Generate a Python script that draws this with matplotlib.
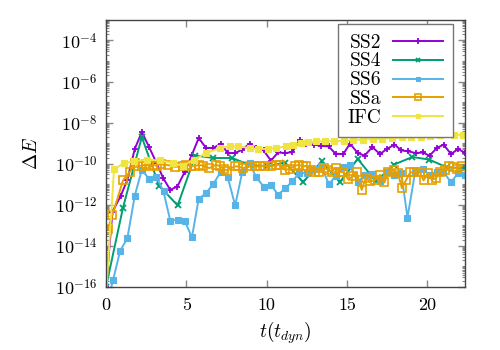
import numpy as np
import matplotlib
matplotlib.use("Agg")
import matplotlib.pyplot as plt
from matplotlib.ticker import FixedLocator, LogLocator, NullFormatter, FixedFormatter

plt.rcParams['font.family'] = ['cmr10', 'DejaVu Serif']
plt.rcParams['mathtext.fontset'] = 'cm'
plt.rcParams['axes.formatter.use_mathtext'] = True

# ---- data (log10 of Delta E) ----
ss2_t = [0, 0.4, 0.92, 1.33, 1.79, 2.23, 2.69, 3.15, 3.56, 4.0, 4.44, 4.9, 5.35, 5.77, 6.23,
         6.69, 7.15, 7.58, 8.02, 8.48, 8.94, 9.35, 9.81, 10.27, 10.71, 11.17, 11.6, 12.06,
         12.48, 12.94, 13.4, 13.86, 14.29, 14.77, 15.19, 15.67, 16.1, 16.58, 17.06, 17.48,
         17.96, 18.39, 18.83, 19.29, 19.73, 20.14, 20.6, 21.02, 21.48, 21.92, 22.37]
ss2_log = [-16, -12.34, -11.56, -10.78, -9.28, -8.45, -9.20, -9.97, -10.70, -11.27, -11.11,
           -10.40, -9.56, -8.75, -9.23, -9.23, -9.02, -9.48, -9.48, -9.32, -9.02, -9.23, -9.35,
           -9.85, -9.45, -9.48, -9.43, -8.83, -9.02, -9.07, -9.12, -9.16, -9.51, -9.53, -9.02,
           -9.48, -9.6, -9.19, -9.53, -9.28, -9.07, -9.35, -9.4, -9.48, -9.45, -9.61, -9.23,
           -9.07, -9.53, -9.28, -9.48]

ss4_t = [0, 1.06, 2.23, 3.31, 4.46, 5.56, 6.69, 7.83, 8.95, 10.0, 11.14, 12.27, 13.42, 14.56,
         15.67, 16.81, 17.9, 19.08, 20.13, 21.23, 22.37]
ss4_log = [-16, -12.13, -8.70, -11.07, -12.03, -9.6, -9.72, -9.72, -10.05, -10.13, -9.94,
           -10.89, -9.89, -10.89, -9.77, -10.86, -10.05, -9.67, -9.8, -10.18, -10.21]

ss6_t = [0, 0.44, 0.88, 1.33, 1.79, 2.23, 2.69, 3.14, 3.58, 4.0, 4.46, 4.9, 5.35, 5.77, 6.23,
         6.69, 7.15, 7.58, 8.04, 8.48, 8.94, 9.35, 9.81, 10.27, 10.71, 11.17, 11.6, 12.02,
         12.52, 12.98, 13.4, 13.88, 14.31, 14.77, 15.19, 15.66, 16.13, 16.58, 17.06, 17.48,
         17.94, 18.38, 18.77, 19.25, 19.71, 20.14, 20.6, 21.0, 21.48, 21.92, 22.37]
ss6_log = [-17, -15.66, -14.24, -13.63, -11.56, -10.29, -10.75, -10.65, -11.35, -12.77,
           -12.73, -12.78, -13.58, -11.71, -11.43, -10.98, -10.38, -10.65, -12.03, -10.41,
           -9.97, -10.65, -11.11, -11.02, -11.51, -11.19, -10.86, -10.45, -10.45, -10.26,
           -10.13, -10.99, -10.59, -10.18, -10.08, -10.89, -10.54, -10.5, -10.86, -10.38,
           -10.54, -10.45, -12.62, -10.38, -10.26, -10.54, -10.38, -10.38, -10.91, -10.45,
           -10.54]

ssa_t = [0.1, 0.4, 1.06, 1.5, 1.79, 2.0, 2.23, 2.48, 2.69, 2.94, 3.15, 3.4, 3.83, 4.3, 4.77,
         5.0, 5.29, 5.55, 5.81, 6.03, 6.44, 6.85, 7.12, 7.33, 7.54, 8.0, 8.21, 8.52, 8.94,
         9.25, 9.56, 9.88, 10.29, 10.6, 10.81, 11.13, 11.44, 11.75, 12.0, 12.27, 12.48,
         12.75, 13.0, 13.27, 13.56, 13.83, 14.04, 14.31, 14.56, 14.77, 15.08, 15.35, 15.6,
         15.92, 16.17, 16.44, 16.75, 17.06, 17.33, 17.58, 17.9, 18.17, 18.42, 18.67, 18.94,
         19.2, 19.52, 19.77, 20.04, 20.29, 20.54, 20.81, 21.08, 21.33, 21.58, 21.85, 22.17]
ssa_log = [-13.2, -12.49, -10.81, -10.38, -9.94, -10.1, -10.1, -10.02, -10.1, -10.05, -10.1,
           -10.02, -10.06, -10.15, -10.13, -10.05, -10.1, -10.1, -10.05, -10.1, -10.21, -10.05,
           -10.13, -10.26, -10.33, -10.13, -10.13, -10.21, -10.13, -10.13, -10.13, -10.1,
           -10.13, -10.05, -10.05, -10.29, -10.26, -10.1, -10.05, -10.13, -10.1, -10.29,
           -10.38, -10.38, -10.21, -10.29, -10.38, -10.21, -10.38, -10.42, -10.75, -10.62,
           -10.42, -11.27, -10.7, -10.86, -10.8, -10.54, -10.91, -10.38, -10.29, -10.45,
           -11.19, -10.81, -10.42, -10.42, -10.38, -10.81, -10.45, -10.78, -10.7, -10.38,
           -10.29, -10.13, -10.18, -10.24, -10.1]

ifc_t = [0, 0.5, 1.13, 1.75, 2.54, 3.38, 4.15, 4.77, 5.5, 6.23, 7.12, 7.69, 8.21, 8.94, 9.46,
         10.08, 10.6, 11.23, 11.65, 12.17, 12.58, 13.1, 13.63, 14.2, 14.8, 15.4, 16.0, 16.6,
         17.2, 17.8, 18.4, 19.0, 19.6, 20.2, 20.8, 21.65, 22.23]
ifc_log = [-16.5, -10.26, -9.97, -9.89, -9.8, -9.84, -9.97, -10.1, -9.8, -9.48, -9.23, -9.16,
           -9.16, -9.23, -9.28, -9.28, -9.23, -9.16, -9.07, -8.99, -8.96, -8.91, -8.91, -8.9,
           -8.88, -8.85, -8.82, -8.8, -8.78, -8.75, -8.72, -8.7, -8.68, -8.65, -8.62, -8.59,
           -8.59]

labels = ['SS2', 'SS4', 'SS6', 'SSa', 'IFC']
colors = ['#9400D3', '#009E73', '#56B4E9', '#E69F00', '#F0E442']
ytick_exps = [-16, -14, -12, -10, -8, -6, -4]
xticks = [0, 5, 10, 15, 20]

fig = plt.figure(figsize=(5, 3.5), dpi=100)
ax = fig.add_axes([0.212, 0.18, 0.718, 0.763])

series = [(ss2_t, ss2_log), (ss4_t, ss4_log), (ss6_t, ss6_log), (ssa_t, ssa_log), (ifc_t, ifc_log)]
styles = [dict(marker='+', ms=5, mew=1.3),
          dict(marker='x', ms=4, mew=1.3),
          dict(marker='s', ms=4, mew=0.8),
          dict(marker='s', ms=5.5, mew=1.2, mfc='none'),
          dict(marker='s', ms=4, mew=0.8)]
for (t, lg), lab, c, st in zip(series, labels, colors, styles):
    ax.plot(t, 10.0 ** np.array(lg), color=c, lw=1.4, label=lab, clip_on=True, **st)

ax.set_yscale('log')
ax.set_xlim(0, 22.35)
ax.set_ylim(1e-16, 1e-3)
ax.yaxis.set_major_locator(FixedLocator([10.0 ** e for e in ytick_exps]))
ax.yaxis.set_major_formatter(FixedFormatter(['$10^{%d}$' % e for e in ytick_exps]))
ax.yaxis.set_minor_locator(LogLocator(base=10, subs=np.arange(1, 10), numticks=40))
ax.yaxis.set_minor_formatter(NullFormatter())
ax.set_xticks(xticks)
ax.set_xticklabels([str(v) for v in xticks])

ax.tick_params(which='both', direction='in', top=True, right=True, color='#888888',
               labelsize=13)
ax.tick_params(axis='x', which='major', pad=8)
ax.tick_params(axis='y', which='major', pad=6)
ax.tick_params(which='major', length=5, width=1)
ax.tick_params(which='minor', length=2.5, width=0.8)
for s in ax.spines.values():
    s.set_color('#444444')
    s.set_linewidth(1)

ax.set_xlabel('$t(t_{dyn})$', fontsize=14, labelpad=4)
ax.set_ylabel(r'$\Delta E$', fontsize=14, labelpad=10)

leg = ax.legend(loc='upper right', bbox_to_anchor=(0.967, 0.985), borderaxespad=0,
                markerfirst=False, numpoints=1, fontsize=14, handlelength=2.6,
                labelspacing=0.05, handletextpad=0.6, borderpad=0.5, fancybox=False,
                framealpha=1, edgecolor='#777777', markerscale=0.75)
leg.get_frame().set_linewidth(1)

fig.savefig('out.png', dpi=100)
